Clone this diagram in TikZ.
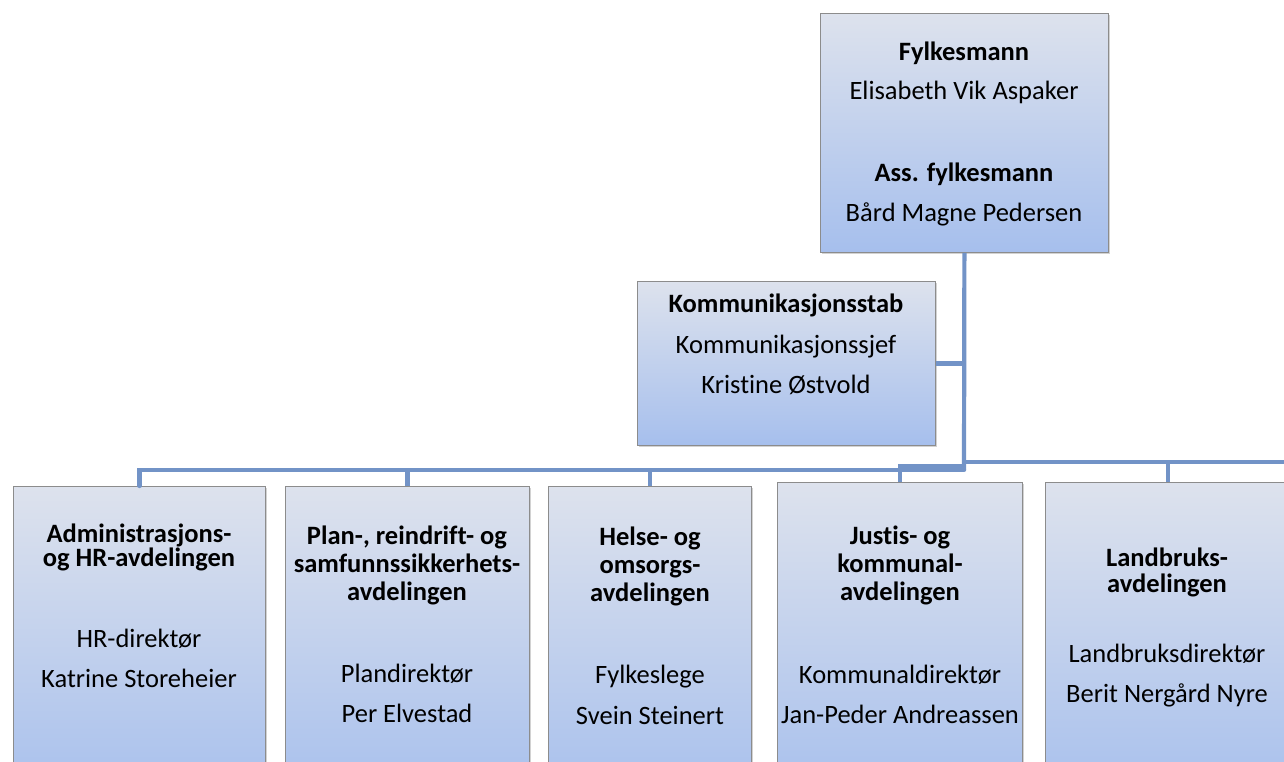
\documentclass[tikz,border=0pt]{standalone}
\usepackage{fontspec}
\setmainfont{Carlito}[Ligatures=NoCommon]
\usetikzlibrary{shadows}
\definecolor{boxtop}{RGB}{221,226,237}
\definecolor{boxbot}{RGB}{166,191,237}
\definecolor{boxline}{RGB}{140,140,140}
\definecolor{conn}{RGB}{114,147,199}
\tikzset{
  orgbox/.style={rectangle, draw=boxline, line width=0.8pt, top color=boxtop, bottom color=boxbot,
    anchor=north west, inner sep=0pt,
    drop shadow={opacity=0.35, shadow xshift=2pt, shadow yshift=-2pt}},
  txt/.style={anchor=base, inner sep=0pt, font=\fontsize{26.5}{30}\selectfont},
  btxt/.style={txt, font=\fontsize{26.5}{30}\selectfont\bfseries},
  link/.style={draw=conn, line width=4.2pt}
}
\begin{document}
\begin{tikzpicture}[x=1pt,y=-1pt]
\useasboundingbox (0,0) rectangle (1284,762);
\clip (0,0) rectangle (1284,762);
\fill[white] (0,0) rectangle (1284,762);

% boxes
\node[orgbox, minimum width=288pt, minimum height=239pt] (fylk) at (820,13) {};
\node[orgbox, minimum width=298pt, minimum height=164pt] (komm) at (637,281) {};
\node[orgbox, minimum width=252pt, minimum height=320pt] (adm) at (13,486) {};
\node[orgbox, minimum width=244pt, minimum height=320pt] (plan) at (285,486) {};
\node[orgbox, minimum width=203pt, minimum height=320pt] (hel) at (548,486) {};
\node[orgbox, minimum width=245pt, minimum height=324pt] (jus) at (777,482) {};
\node[orgbox, minimum width=245pt, minimum height=324pt] (land) at (1045,482) {};

% connectors
\coordinate (tj) at (964,470);
\coordinate (tr) at (964,462);
\coordinate (jj) at (964,466);
\coordinate (offr) at (1300,462);
\draw[link] (fylk.south) -- (tj);
\draw[link] (komm.east) -- (komm.east -| fylk.south);
\draw[link, line cap=round] (adm.north) |- (tj);
\draw[link] (plan.north) -- (plan.north |- tj);
\draw[link] (hel.north) -- (hel.north |- tj);
\draw[link] (jus.north) |- (jj);
\draw[link] (tr) -- (offr);
\draw[link] (land.north) -- (land.north |- tr);

% texts
\node[btxt] (f1) at (964,61) {Fylkesmann};
\node[txt] (f2) at (964,100) {Elisabeth Vik Aspaker};
\node[btxt] (f3) at (964,182) {Ass. fylkesmann};
\node[txt] (f4) at (964,222) {Bård Magne Pedersen};

\node[btxt] (k1) at (786,312) {Kommunikasjonsstab};
\node[txt] (k2) at (786,353) {Kommunikasjonssjef};
\node[txt] (k3) at (786,393) {Kristine Østvold};

\node[btxt] (a1) at (139,542) {Administrasjons-};
\node[btxt] (a2) at (139,566) {og HR-avdelingen};
\node[txt] (a3) at (139,647) {HR-direktør};
\node[txt] (a4) at (139,687) {Katrine Storeheier};

\node[btxt] (p1) at (407,544) {Plan-, reindrift- og};
\node[btxt] (p2) at (407,572) {samfunnssikkerhets-};
\node[btxt] (p3) at (407,600) {avdelingen};
\node[txt] (p4) at (407,682) {Plandirektør};
\node[txt] (p5) at (407,722) {Per Elvestad};

\node[btxt] (h1) at (650,545) {Helse- og};
\node[btxt] (h2) at (650,573) {omsorgs-};
\node[btxt] (h3) at (650,601) {avdelingen};
\node[txt] (h4) at (650,683) {Fylkeslege};
\node[txt] (h5) at (650,724) {Svein Steinert};

\node[btxt] (j1) at (900,544) {Justis- og};
\node[btxt] (j2) at (900,572) {kommunal-};
\node[btxt] (j3) at (900,600) {avdelingen};
\node[txt] (j4) at (900,683) {Kommunaldirektør};
\node[txt] (j5) at (900,723) {Jan-Peder Andreassen};

\node[btxt] (l1) at (1167,566) {Landbruks-};
\node[btxt] (l2) at (1167,592) {avdelingen};
\node[txt] (l3) at (1167,662) {Landbruksdirektør};
\node[txt] (l4) at (1167,702) {Berit Nergård Nyre};
\end{tikzpicture}
\end{document}
